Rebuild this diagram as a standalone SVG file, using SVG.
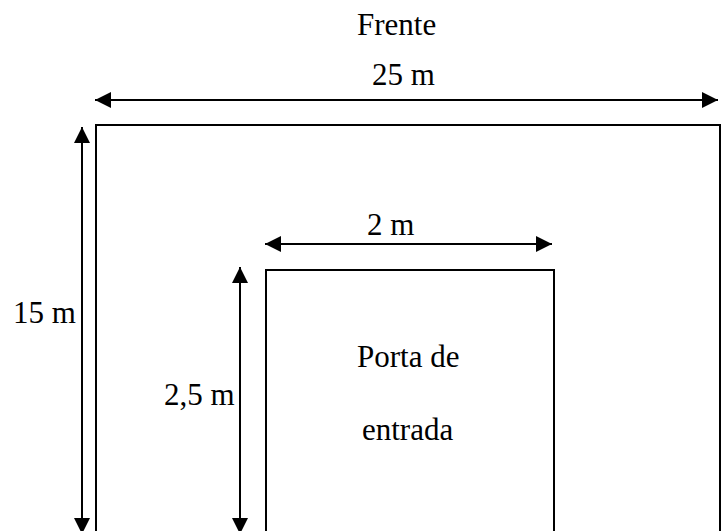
<svg xmlns="http://www.w3.org/2000/svg" width="728" height="531" viewBox="0 0 728 531">
<defs>
<marker id="ah" markerUnits="userSpaceOnUse" markerWidth="18" markerHeight="16" viewBox="0 0 18 16" refX="16" refY="8" orient="auto-start-reverse">
<path d="M0,0 L16,8 L0,16 Z" fill="#000"/>
</marker>
<style>
.t{font-family:"Liberation Serif","Times New Roman",serif;font-size:31px;fill:#000}
.r{fill:none;stroke:#000;stroke-width:2}
.a{stroke:#000;stroke-width:2;marker-start:url(#ah);marker-end:url(#ah)}
</style>
</defs>
<rect width="728" height="531" fill="#fff"/>
<g id="outer">
<rect class="r" x="96" y="125" width="624" height="420"/>
</g>
<g id="door">
<rect class="r" x="266" y="270" width="288" height="280"/>
<text class="t" x="357" y="367">Porta de</text>
<text class="t" x="362" y="440">entrada</text>
</g>
<g id="labels">
<text class="t" x="357" y="35">Frente</text>
<text class="t" x="372" y="85">25 m</text>
<text class="t" x="367" y="235">2 m</text>
<text class="t" x="13" y="323">15 m</text>
<text class="t" x="164" y="405">2,5 m</text>
</g>
<g id="connectors">
<line class="a" x1="95" y1="100" x2="718" y2="100"/>
<line class="a" x1="82" y1="127" x2="82" y2="534"/>
<line class="a" x1="265" y1="244" x2="552" y2="244"/>
<line class="a" x1="240" y1="267" x2="240" y2="534"/>
</g>
</svg>
